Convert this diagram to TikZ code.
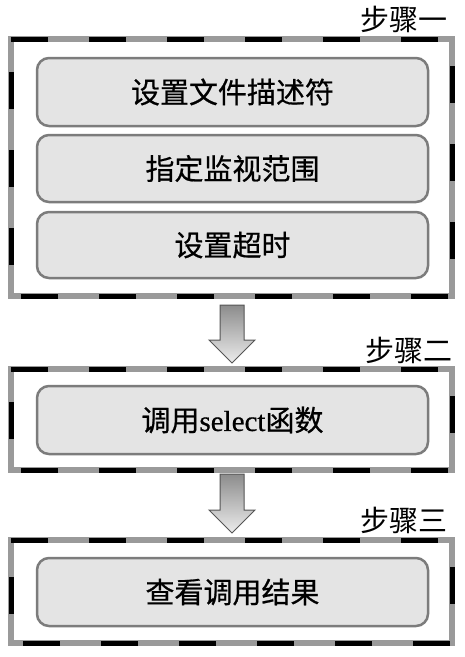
\documentclass[tikz,border=0pt]{standalone}
\usepackage{fontspec}
\setmainfont{Liberation Serif}
\newfontfamily\cjk{Noto Sans CJK SC}
\newfontfamily\cjkb[FakeBold=0.6]{Noto Sans CJK SC}
\newfontfamily\serifb[FakeBold=0.6]{Liberation Serif}
\definecolor{innerfill}{HTML}{E4E4E4}
\definecolor{innerdraw}{HTML}{7C7C7C}
\definecolor{outerdraw}{HTML}{9A9A9A}
\definecolor{arrowdraw}{HTML}{555555}
\tikzset{
  outerbox/.style={draw=outerdraw, line width=6pt, fill=white, inner sep=0pt, outer sep=0pt, minimum width=441pt},
  dashover/.style={draw=black, line width=5pt, dash pattern=on 37pt off 41pt},
  innerbox/.style={draw=innerdraw, line width=2.5pt, fill=innerfill, rounded corners=12pt, inner sep=0pt, minimum width=391pt, font=\cjkb\fontsize{29pt}{32pt}\selectfont},
  steplabel/.style={inner sep=0pt, font=\cjk\fontsize{29pt}{32pt}\selectfont},
  bigarrow/.style={top color=gray!90, bottom color=gray!15, draw=arrowdraw, line width=1pt, line join=miter}
}
\newcommand{\downarr}[4]{%
  \path[bigarrow] (#1-12,#2) -- (#1+12,#2) -- (#1+12,#3) -- (#1+23,#3) -- (#1,#4) -- (#1-23,#3) -- (#1-12,#3) -- cycle;}
\begin{document}
\begin{tikzpicture}[x=1pt,y=-1pt]
\useasboundingbox (0,0) rectangle (464,657);
% step 1
\node[outerbox, minimum height=257pt] (s1) at (231.5,167.5) {};
\draw[dashover] (s1.north west) -- (s1.north east) -- (s1.south east) -- (s1.south west) -- cycle;
\node[innerbox, minimum height=68pt] (b1) at (232.5,92) {设置文件描述符};
\node[innerbox, minimum height=67pt] (b2) at (232.5,168.5) {指定监视范围};
\node[innerbox, minimum height=66pt] (b3) at (232.5,245) {设置超时};
\node[steplabel] (l1) at (404,19) {步骤一};
% arrow 1
\downarr{232}{305}{340}{363}
% step 2
\node[outerbox, minimum height=101pt] (s2) at (231.5,419.5) {};
\draw[dashover] (s2.north west) -- (s2.north east) -- (s2.south east) -- (s2.south west) -- cycle;
\node[innerbox, minimum height=68pt] (b4) at (232.5,420) {调用{\serifb select}函数};
\node[steplabel] (l2) at (409,350) {步骤二};
% arrow 2
\downarr{232}{474}{510}{533}
% step 3
\node[outerbox, minimum height=103pt] (s3) at (231.5,591.5) {};
\draw[dashover] (s3.north west) -- (s3.north east) -- (s3.south east) -- (s3.south west) -- cycle;
\node[innerbox, minimum height=68pt] (b5) at (232.5,592) {查看调用结果};
\node[steplabel] (l3) at (404,520) {步骤三};
\end{tikzpicture}
\end{document}
